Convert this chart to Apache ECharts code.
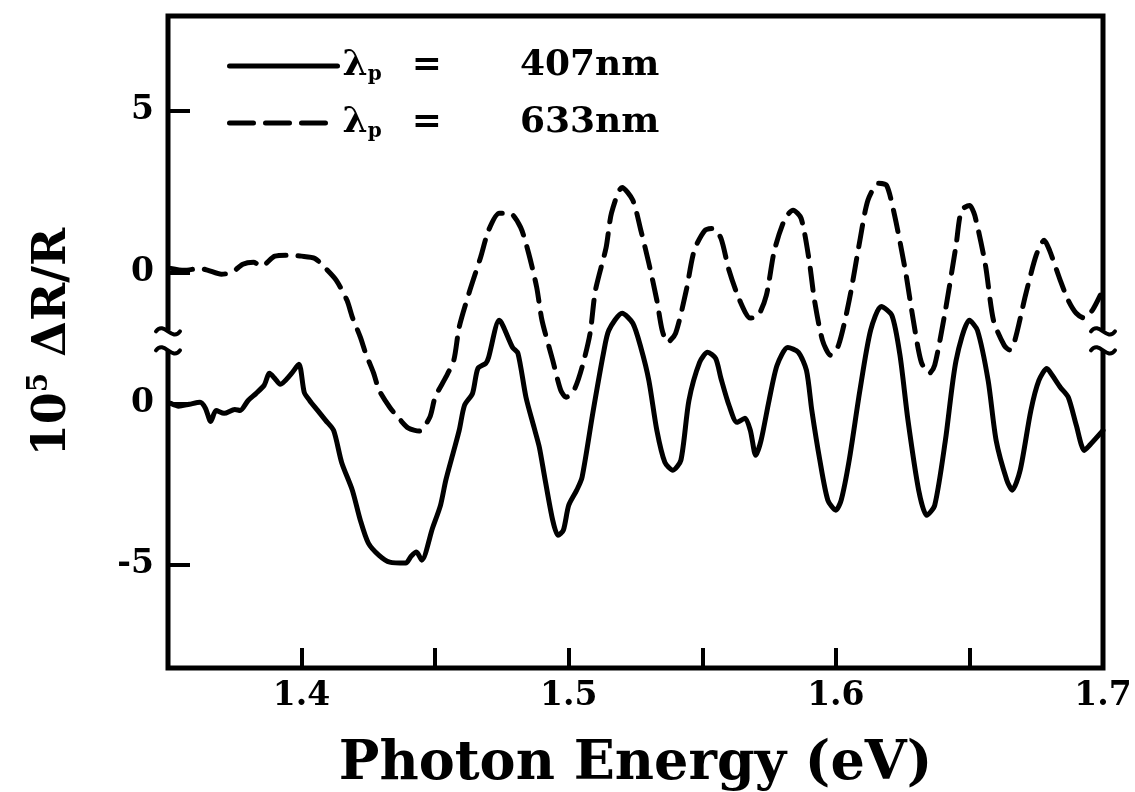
<!DOCTYPE html>
<html>
<head>
<meta charset="utf-8">
<script src="https://cdn.jsdelivr.net/npm/echarts@6/dist/echarts.min.js"></script>
<style>
  html, body { margin: 0; padding: 0; background: #fff; }
  #chart { width: 1135px; height: 792px; }
</style>
</head>
<body>
<div id="chart"></div>
<script>
// ---- data ----
// solid curve, pump wavelength 407 nm (lower trace)
const energy407 = [1.351,1.354,1.358,1.362,1.364,1.366,1.368,1.371,1.375,1.377,1.380,1.383,1.386,1.388,1.390,1.392,1.396,1.399,1.401,1.403,1.406,1.409,1.412,1.415,1.419,1.422,1.425,1.429,1.433,1.439,1.441,1.443,1.445,1.449,1.452,1.454,1.457,1.459,1.461,1.464,1.466,1.469,1.470,1.474,1.479,1.481,1.484,1.487,1.489,1.491,1.494,1.496,1.498,1.500,1.503,1.505,1.509,1.513,1.515,1.520,1.524,1.527,1.530,1.533,1.536,1.539,1.542,1.545,1.549,1.552,1.555,1.557,1.560,1.563,1.566,1.568,1.570,1.572,1.575,1.578,1.582,1.586,1.589,1.591,1.594,1.597,1.600,1.602,1.605,1.609,1.613,1.617,1.621,1.624,1.627,1.631,1.634,1.637,1.641,1.645,1.650,1.653,1.657,1.660,1.664,1.666,1.669,1.673,1.676,1.679,1.681,1.684,1.687,1.690,1.693,1.695,1.700];
const dr407 = [0.0,-0.09,-0.03,0.03,-0.15,-0.56,-0.22,-0.31,-0.19,-0.22,0.09,0.31,0.56,0.93,0.77,0.59,0.90,1.21,0.34,0.09,-0.22,-0.53,-0.84,-1.83,-2.69,-3.62,-4.33,-4.71,-4.92,-4.95,-4.74,-4.61,-4.86,-3.87,-3.16,-2.38,-1.46,-0.84,-0.06,0.31,1.08,1.24,1.42,2.57,1.73,1.55,0.19,-0.74,-1.36,-2.29,-3.62,-4.09,-3.93,-3.16,-2.69,-2.29,-0.31,1.55,2.26,2.79,2.48,1.73,0.71,-0.84,-1.83,-2.07,-1.76,0.09,1.27,1.58,1.39,0.77,-0.06,-0.59,-0.46,-0.84,-1.61,-1.15,0.09,1.18,1.73,1.58,1.02,-0.22,-1.76,-3.0,-3.31,-3.0,-1.76,0.40,2.26,3.0,2.72,1.49,-0.53,-2.69,-3.47,-3.16,-1.15,1.33,2.57,2.26,0.71,-1.15,-2.38,-2.69,-2.07,-0.22,0.71,1.08,0.87,0.50,0.19,-0.68,-1.46,-1.30,-0.84];

// dashed curve, pump wavelength 633 nm (upper trace, its own zero)
const energy633 = [1.351,1.356,1.362,1.365,1.370,1.374,1.378,1.382,1.385,1.390,1.395,1.400,1.405,1.409,1.413,1.417,1.419,1.422,1.424,1.427,1.429,1.433,1.437,1.440,1.444,1.448,1.450,1.454,1.457,1.459,1.463,1.467,1.470,1.474,1.478,1.482,1.485,1.488,1.490,1.494,1.497,1.499,1.502,1.505,1.508,1.510,1.514,1.516,1.520,1.524,1.527,1.530,1.533,1.535,1.537,1.540,1.544,1.547,1.551,1.554,1.557,1.560,1.564,1.568,1.571,1.574,1.577,1.581,1.584,1.587,1.590,1.592,1.595,1.598,1.601,1.605,1.609,1.612,1.616,1.619,1.622,1.626,1.629,1.632,1.635,1.637,1.641,1.645,1.647,1.650,1.652,1.656,1.659,1.663,1.665,1.667,1.671,1.675,1.678,1.680,1.684,1.687,1.690,1.693,1.696,1.699];
const dr633 = [0.12,0.06,0.12,0.06,-0.06,0.0,0.25,0.31,0.19,0.50,0.53,0.50,0.43,0.12,-0.25,-0.87,-1.39,-2.01,-2.51,-3.13,-3.65,-4.18,-4.58,-4.83,-4.92,-4.49,-3.87,-3.25,-2.72,-1.70,-0.56,0.46,1.30,1.83,1.83,1.39,0.59,-0.46,-1.49,-2.72,-3.65,-3.87,-3.65,-2.94,-1.89,-0.56,0.77,1.83,2.63,2.23,1.30,0.28,-0.87,-1.80,-2.17,-1.89,-0.56,0.68,1.30,1.36,1.05,0.06,-0.87,-1.42,-1.33,-0.71,0.68,1.67,1.92,1.67,0.37,-0.87,-2.11,-2.57,-2.26,-0.87,0.99,2.23,2.76,2.69,1.76,0.06,-1.49,-2.79,-3.13,-2.88,-1.18,0.84,1.92,2.07,1.76,0.22,-1.49,-2.26,-2.41,-2.11,-0.71,0.53,0.99,0.68,-0.25,-0.87,-1.27,-1.42,-1.18,-0.71];

// tick labels
const xTickLabels = ['1.4', '1.5', '1.6', '1.7'];
const lowerTickValues = [-5, 0];
const lowerTickLabels = ['-5', '0'];
const upperTickValues = [0, 5];
const upperTickLabels = ['0', '5'];
const seriesNames = ['407nm', '633nm'];

// ---- layout / style ----
const UPPER_OFFSET = 4.06;   // vertical shift of the upper (dashed) trace
const BREAK_AT = 1.95;       // axis break position (lower-trace units)
const FONT = '"DejaVu Serif", serif';

const chart = echarts.init(document.getElementById('chart'), null, { renderer: 'canvas' });

const tickVals = lowerTickValues.concat(upperTickValues.map(v => v + UPPER_OFFSET));
const tickLabs = lowerTickLabels.concat(upperTickLabels);

function pair(xs, ys, off) { return xs.map((x, i) => [x, ys[i] + off]); }

const legendRich = {
  l: { fontFamily: FONT, fontWeight: 'bold', fontSize: 36, color: '#000' },
  s: { fontFamily: FONT, fontWeight: 'bold', fontSize: 20, color: '#000', padding: [18, 0, 0, 0] },
  e: { fontFamily: FONT, fontWeight: 'bold', fontSize: 36, color: '#000', padding: [0, 78, 0, 30] },
  n: { fontFamily: FONT, fontWeight: 'bold', fontSize: 36, color: '#000' }
};

const hiddenSymbol = { opacity: 0, color: 'rgba(0,0,0,0)', borderWidth: 0 };

chart.setOption({
  animation: false,
  backgroundColor: '#fff',
  grid: { left: 168, right: 32, top: 16, bottom: 124, outerBoundsMode: 'none', containLabel: false,
          show: true, borderColor: '#000', borderWidth: 5, backgroundColor: 'transparent' },
  legend: {
    orient: 'vertical', left: 222, top: 43, itemWidth: 108, itemHeight: 20, itemGap: 20,
    selectedMode: false,
    data: [
      { name: seriesNames[0], itemStyle: hiddenSymbol, lineStyle: { width: 5, type: 'solid', color: '#000', cap: 'round', opacity: 1 } },
      { name: seriesNames[1], itemStyle: hiddenSymbol, lineStyle: { width: 5, type: [24, 12], color: '#000', cap: 'round', opacity: 1 } }
    ],
    formatter: n => '{l|λ}{s|p}{e|=}{n|' + n + '}',
    textStyle: { rich: legendRich, fontSize: 36 }
  },
  xAxis: {
    type: 'value', min: 1.35, max: 1.7, interval: 0.05,
    axisLine: { show: false, onZero: false },
    splitLine: { show: false },
    axisTick: { inside: true, length: 20, lineStyle: { color: '#000', width: 4 } },
    axisLabel: {
      margin: 12, color: '#000', fontFamily: FONT, fontWeight: 'bold', fontSize: 33,
      formatter: v => { const k = Math.round(v * 100); return (k % 10 === 0 && xTickLabels.includes((k / 100).toFixed(1))) ? (k / 100).toFixed(1) : ''; }
    },
    name: 'Photon Energy (eV)', nameLocation: 'middle', nameGap: 70,
    nameTextStyle: { color: '#000', fontFamily: FONT, fontWeight: 'bold', fontSize: 54 }
  },
  yAxis: {
    type: 'value', min: -8.2, max: 12.0,
    axisLine: { show: false, onZero: false },
    splitLine: { show: false },
    axisTick: { inside: true, length: 22, customValues: tickVals, lineStyle: { color: '#000', width: 4 } },
    axisLabel: {
      margin: 14, color: '#000', fontFamily: FONT, fontWeight: 'bold', fontSize: 33,
      customValues: tickVals,
      formatter: v => { const i = tickVals.findIndex(t => Math.abs(t - v) < 1e-6); return i >= 0 ? tickLabs[i] : ''; }
    },
    name: '{a|10}{b|5}{a| ΔR/R}', nameLocation: 'middle', nameGap: 88, nameRotate: 90,
    nameTextStyle: {
      color: '#000',
      rich: {
        a: { fontFamily: FONT, fontWeight: 'bold', fontSize: 46, color: '#000', lineHeight: 54 },
        b: { fontFamily: FONT, fontWeight: 'bold', fontSize: 28, color: '#000', verticalAlign: 'top', lineHeight: 54, padding: [0, 0, 16, 0] }
      }
    }
  },
  series: [
    {
      name: seriesNames[0], type: 'line', data: pair(energy407, dr407, 0),
      symbol: 'none', smooth: 0.25,
      lineStyle: { color: '#000', width: 5, join: 'round', cap: 'round' },
      itemStyle: { color: '#000' }
    },
    {
      name: seriesNames[1], type: 'line', data: pair(energy633, dr633, UPPER_OFFSET),
      symbol: 'none', smooth: 0.25,
      lineStyle: { color: '#000', width: 5, type: [22, 12], join: 'round', cap: 'round' },
      itemStyle: { color: '#000' }
    }
  ]
});

// axis-break marks on both vertical frame lines
const pL = chart.convertToPixel({ gridIndex: 0 }, [1.35, BREAK_AT]);
const pR = chart.convertToPixel({ gridIndex: 0 }, [1.7, BREAK_AT]);
function breakMark(p) {
  const cx = p[0], cy = p[1];
  const squig = (y) => ({
    type: 'bezierCurve', z: 101,
    shape: { x1: cx - 12, y1: y, cpx1: cx - 4, cpy1: y - 11, cpx2: cx + 4, cpy2: y + 11, x2: cx + 12, y2: y },
    style: { stroke: '#000', lineWidth: 4, fill: null, lineCap: 'round' }
  });
  return [
    { type: 'rect', z: 100, shape: { x: cx - 8, y: cy - 10, width: 16, height: 20 }, style: { fill: '#fff' } },
    squig(cy - 9), squig(cy + 10)
  ];
}
chart.setOption({ graphic: breakMark(pL).concat(breakMark(pR)) });
</script>
</body>
</html>
